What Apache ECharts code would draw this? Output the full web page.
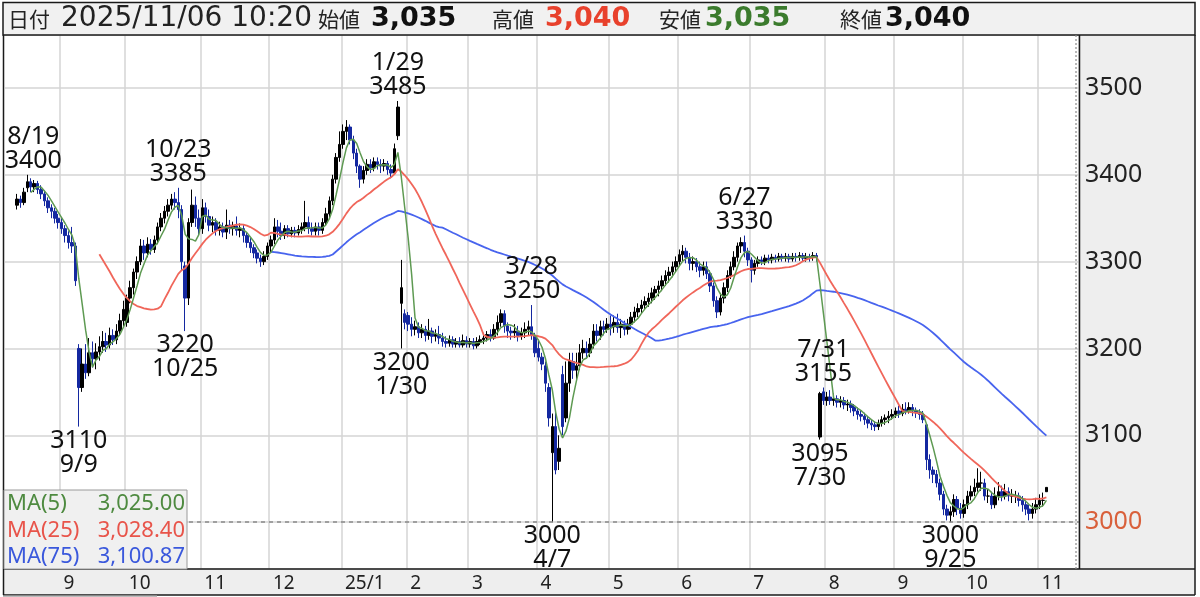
<!DOCTYPE html>
<html><head><meta charset="utf-8">
<script src="https://cdn.jsdelivr.net/npm/echarts@6/dist/echarts.min.js"></script>
<style>html,body{margin:0;padding:0;background:#fff;}#chart{width:1200px;height:597px;}</style>
</head><body><div id="chart"></div>
<script>
// ---- trading days and daily candles [open, close, low, high] ----
const days_2024_08 = [14,15,16,19,20,21,22,23,26,27,28,29,30];
const ohlc_2024_08 = [[3365,3372,3360,3378],[3372,3368,3362,3376],[3368,3380,3365,3385],[3385,3392,3380,3400],[3392,3386,3380,3396],[3386,3390,3380,3394],[3390,3383,3378,3393],[3383,3378,3372,3388],[3378,3370,3364,3382],[3370,3362,3356,3374],[3362,3358,3350,3366],[3358,3350,3344,3362],[3350,3345,3338,3355]];
const days_2024_09 = [2,3,4,5,6,9,10,11,12,13,17,18,19,20,24,25,26,27,30];
const ohlc_2024_09 = [[3345,3338,3332,3350],[3338,3330,3322,3342],[3330,3322,3315,3335],[3322,3318,3310,3340],[3318,3278,3272,3322],[3200,3155,3110,3205],[3155,3182,3150,3200],[3182,3172,3165,3205],[3172,3195,3168,3212],[3195,3188,3178,3208],[3188,3196,3176,3206],[3196,3202,3186,3214],[3202,3208,3195,3220],[3208,3204,3196,3218],[3204,3215,3200,3224],[3215,3210,3204,3222],[3210,3220,3205,3228],[3220,3232,3215,3240],[3232,3245,3225,3255]];
const days_2024_10 = [1,2,3,4,7,8,9,10,11,15,16,17,18,21,22,23,24,25,28,29,30,31];
const ohlc_2024_10 = [[3230,3258,3225,3262],[3258,3270,3252,3278],[3270,3288,3262,3292],[3288,3300,3280,3306],[3300,3318,3296,3326],[3318,3310,3302,3325],[3310,3320,3305,3328],[3320,3314,3308,3326],[3314,3325,3310,3330],[3325,3340,3320,3345],[3340,3350,3335,3356],[3350,3358,3344,3364],[3358,3365,3352,3372],[3365,3372,3360,3378],[3372,3368,3360,3380],[3368,3360,3350,3385],[3360,3300,3290,3365],[3295,3258,3220,3300],[3258,3345,3250,3350],[3345,3365,3340,3383],[3365,3350,3340,3375],[3350,3338,3330,3360]];
const days_2024_11 = [1,5,6,7,8,11,12,13,14,15,18,19,20,21,22,25,26,27,28,29];
const ohlc_2024_11 = [[3338,3362,3332,3372],[3362,3352,3345,3368],[3352,3342,3335,3360],[3342,3345,3334,3352],[3345,3336,3330,3350],[3336,3340,3330,3346],[3340,3334,3328,3345],[3334,3342,3326,3360],[3342,3338,3332,3348],[3338,3341,3330,3346],[3341,3336,3330,3352],[3336,3338,3328,3344],[3338,3330,3322,3342],[3330,3322,3316,3334],[3322,3316,3310,3328],[3316,3310,3304,3320],[3310,3304,3298,3314],[3304,3300,3294,3308],[3300,3306,3296,3312],[3306,3318,3302,3322]];
const days_2024_12 = [2,3,4,5,6,9,10,11,12,13,16,17,18,19,20,23,24,25,26,27,30];
const ohlc_2024_12 = [[3318,3325,3310,3330],[3325,3340,3320,3350],[3340,3335,3328,3348],[3335,3330,3325,3345],[3330,3338,3326,3342],[3338,3332,3328,3342],[3332,3336,3328,3340],[3336,3333,3328,3340],[3333,3337,3330,3342],[3337,3340,3332,3345],[3340,3345,3335,3370],[3345,3338,3332,3352],[3338,3335,3330,3345],[3335,3340,3330,3345],[3340,3336,3330,3345],[3336,3345,3332,3350],[3345,3355,3342,3362],[3355,3370,3350,3375],[3370,3395,3365,3400],[3395,3420,3390,3425],[3420,3435,3415,3450]];
const days_2025_01 = [6,7,8,9,10,14,15,16,17,20,21,22,23,24,27,28,29,30,31];
const ohlc_2025_01 = [[3435,3450,3430,3458],[3450,3455,3440,3463],[3455,3440,3435,3458],[3440,3425,3418,3445],[3425,3410,3402,3430],[3410,3395,3385,3412],[3395,3405,3390,3410],[3405,3412,3400,3418],[3412,3408,3402,3418],[3408,3415,3404,3420],[3415,3412,3406,3420],[3412,3410,3402,3418],[3410,3413,3404,3418],[3413,3406,3400,3416],[3406,3402,3396,3412],[3402,3430,3400,3436],[3445,3478,3440,3485],[3252,3270,3200,3302],[3240,3230,3222,3245]];
const days_2025_02 = [3,4,5,6,7,10,12,13,14,17,18,19,20,21,25,26,27,28];
const ohlc_2025_02 = [[3238,3228,3220,3242],[3228,3222,3214,3236],[3222,3225,3215,3232],[3225,3218,3212,3230],[3218,3222,3212,3228],[3222,3215,3208,3226],[3215,3220,3210,3234],[3220,3214,3206,3224],[3214,3216,3208,3222],[3216,3212,3205,3226],[3212,3208,3202,3218],[3208,3206,3201,3214],[3206,3210,3202,3215],[3210,3205,3201,3214],[3205,3208,3201,3212],[3208,3204,3201,3213],[3204,3209,3201,3216],[3209,3205,3201,3214]];
const days_2025_03 = [3,4,5,6,7,10,11,12,13,14,17,18,19,21,24,25,26,27,28,31];
const ohlc_2025_03 = [[3205,3208,3201,3212],[3208,3203,3199,3212],[3203,3208,3200,3213],[3208,3210,3204,3215],[3210,3212,3205,3218],[3212,3216,3208,3220],[3216,3212,3208,3222],[3212,3222,3210,3228],[3222,3230,3215,3238],[3230,3240,3225,3245],[3240,3226,3218,3244],[3226,3220,3212,3230],[3220,3218,3210,3225],[3218,3220,3212,3228],[3220,3215,3208,3226],[3215,3218,3210,3224],[3218,3222,3212,3230],[3222,3225,3215,3232],[3225,3215,3210,3250],[3215,3195,3190,3218]];
const days_2025_04 = [1,2,3,4,7,8,9,10,11,14,15,16,17,18,21,22,23,24,25,28,30];
const ohlc_2025_04 = [[3200,3190,3185,3210],[3190,3182,3175,3195],[3180,3160,3150,3185],[3155,3120,3110,3160],[3080,3110,3000,3125],[3110,3060,3055,3130],[3070,3085,3060,3100],[3170,3110,3100,3180],[3120,3160,3115,3185],[3160,3185,3150,3195],[3185,3175,3165,3195],[3175,3180,3165,3195],[3180,3195,3175,3205],[3195,3200,3188,3210],[3200,3195,3188,3208],[3195,3205,3190,3212],[3205,3220,3200,3228],[3220,3215,3208,3228],[3215,3225,3210,3232],[3225,3222,3215,3232],[3222,3228,3218,3235]];
const days_2025_05 = [1,2,7,8,9,12,13,14,15,16,19,20,21,22,23,26,27,28,29,30];
const ohlc_2025_05 = [[3228,3225,3215,3238],[3225,3230,3218,3238],[3230,3224,3218,3240],[3224,3228,3212,3234],[3228,3222,3215,3232],[3222,3228,3216,3234],[3228,3236,3222,3242],[3236,3242,3230,3248],[3242,3246,3236,3252],[3246,3250,3240,3256],[3250,3254,3245,3260],[3254,3258,3248,3264],[3258,3264,3252,3270],[3264,3268,3256,3272],[3268,3272,3260,3278],[3272,3278,3266,3284],[3278,3284,3272,3290],[3284,3288,3276,3294],[3288,3294,3282,3300],[3294,3300,3288,3306]];
const days_2025_06 = [2,3,4,5,6,9,10,11,12,13,16,17,18,19,20,23,24,25,26,27,30];
const ohlc_2025_06 = [[3300,3308,3295,3314],[3308,3312,3300,3319],[3312,3305,3298,3316],[3305,3298,3290,3310],[3298,3300,3290,3306],[3300,3294,3288,3304],[3294,3290,3282,3300],[3290,3294,3284,3300],[3294,3286,3280,3300],[3286,3272,3265,3290],[3272,3255,3248,3276],[3255,3242,3235,3260],[3242,3258,3238,3264],[3258,3270,3252,3276],[3270,3284,3265,3290],[3284,3294,3280,3300],[3294,3305,3290,3312],[3305,3318,3300,3322],[3318,3322,3310,3328],[3322,3312,3305,3330],[3312,3302,3295,3316]];
const days_2025_07 = [1,2,3,4,7,8,9,10,11,14,15,16,17,18,22,23,24,25,28,29,30,31];
const ohlc_2025_07 = [[3302,3290,3276,3305],[3290,3298,3285,3302],[3298,3302,3294,3306],[3302,3300,3296,3306],[3300,3304,3296,3308],[3304,3302,3298,3308],[3302,3305,3298,3309],[3305,3303,3299,3308],[3303,3306,3300,3310],[3306,3304,3300,3309],[3304,3306,3300,3310],[3306,3303,3299,3309],[3303,3306,3300,3310],[3306,3305,3300,3310],[3305,3307,3301,3311],[3307,3304,3300,3310],[3304,3306,3300,3310],[3306,3305,3300,3309],[3305,3307,3301,3311],[3307,3305,3300,3310],[3098,3148,3095,3150],[3150,3140,3135,3155]];
const days_2025_08 = [1,4,5,6,7,8,12,13,14,15,18,19,20,21,22,25,26,27,28,29];
const ohlc_2025_08 = [[3140,3144,3134,3150],[3144,3140,3135,3152],[3140,3142,3134,3148],[3142,3138,3132,3146],[3138,3140,3132,3145],[3140,3135,3130,3144],[3135,3136,3128,3141],[3136,3132,3126,3140],[3132,3128,3122,3136],[3128,3124,3118,3132],[3124,3122,3116,3128],[3122,3118,3112,3126],[3118,3114,3108,3122],[3114,3112,3106,3118],[3112,3110,3105,3116],[3110,3114,3106,3118],[3114,3118,3110,3122],[3118,3120,3112,3124],[3120,3122,3114,3128],[3122,3124,3118,3130]];
const days_2025_09 = [1,2,3,4,5,8,9,10,11,12,16,17,18,19,22,24,25,26,29,30];
const ohlc_2025_09 = [[3124,3128,3120,3132],[3128,3125,3120,3134],[3125,3130,3122,3136],[3130,3128,3124,3138],[3128,3132,3125,3138],[3132,3128,3122,3136],[3128,3126,3120,3132],[3126,3124,3118,3130],[3124,3118,3114,3128],[3112,3072,3060,3114],[3072,3060,3050,3078],[3060,3055,3045,3064],[3055,3045,3040,3060],[3045,3032,3025,3050],[3032,3015,3008,3036],[3015,3008,3002,3020],[3008,3012,3000,3018],[3012,3026,3006,3032],[3026,3016,3008,3030],[3016,3010,3004,3022]];
const days_2025_10 = [1,2,3,6,7,8,9,10,14,15,16,17,20,21,22,23,24,27,28,29,30,31];
const ohlc_2025_10 = [[3010,3020,3005,3026],[3020,3030,3015,3036],[3030,3035,3025,3042],[3035,3040,3030,3050],[3040,3045,3035,3062],[3045,3045,3036,3058],[3045,3030,3025,3050],[3030,3030,3022,3038],[3030,3020,3015,3035],[3020,3030,3016,3040],[3030,3035,3025,3046],[3035,3030,3024,3042],[3030,3035,3026,3044],[3035,3030,3024,3040],[3030,3030,3022,3038],[3030,3030,3022,3036],[3030,3025,3018,3034],[3025,3020,3012,3030],[3020,3015,3008,3025],[3015,3010,3002,3020],[3010,3015,3004,3022],[3015,3020,3010,3028]];
const days_2025_11 = [4,5,6];
const ohlc_2025_11 = [[3020,3025,3015,3032],[3025,3025,3018,3034],[3035,3040,3035,3040]];

// ---- annotated highs / lows ----
const markDates  = ['2024/08/19','2024/09/09','2024/10/23','2024/10/25','2025/01/29','2025/01/30','2025/03/28','2025/04/07','2025/06/27','2025/07/30','2025/07/31','2025/09/25'];
const markValues = [3400,3110,3385,3220,3485,3200,3250,3000,3330,3095,3155,3000];
const markSides  = ['top','bottom','top','bottom','top','bottom','top','bottom','top','bottom','top','bottom'];

// ---- moving averages / legend ----
const maPeriods = [5, 25, 75];
const maLabels = ['MA(5)', 'MA(25)', 'MA(75)'];
const maLegendValues = ['3,025.00', '3,028.40', '3,100.87'];
const maColors = ['#5e9a52', '#f0665a', '#4864ee'];
const maTextColors = ['#4e8a40', '#e8544a', '#3a58dc'];

// ---- header ----
const headerTime = '10:20';
const headerNames = ['日付', '始値', '高値', '安値', '終値'];
const refLine = 3000;

const months = [
  ['2024/08', days_2024_08, ohlc_2024_08], ['2024/09', days_2024_09, ohlc_2024_09],
  ['2024/10', days_2024_10, ohlc_2024_10], ['2024/11', days_2024_11, ohlc_2024_11],
  ['2024/12', days_2024_12, ohlc_2024_12], ['2025/01', days_2025_01, ohlc_2025_01],
  ['2025/02', days_2025_02, ohlc_2025_02], ['2025/03', days_2025_03, ohlc_2025_03],
  ['2025/04', days_2025_04, ohlc_2025_04], ['2025/05', days_2025_05, ohlc_2025_05],
  ['2025/06', days_2025_06, ohlc_2025_06], ['2025/07', days_2025_07, ohlc_2025_07],
  ['2025/08', days_2025_08, ohlc_2025_08], ['2025/09', days_2025_09, ohlc_2025_09],
  ['2025/10', days_2025_10, ohlc_2025_10], ['2025/11', days_2025_11, ohlc_2025_11]
];

const PAD_BEFORE = 3, PAD_AFTER = 9;
const FONT = "'Noto Sans', 'Noto Sans CJK JP', sans-serif";
const HFONT = "'DejaVu Sans', sans-serif";
const CJK = "'Noto Sans CJK JP', sans-serif";

const dates = [], rows = [];
months.forEach(([ym, days, ohlc]) => {
  days.forEach((d, i) => { dates.push(ym + '/' + String(d).padStart(2, '0')); rows.push(ohlc[i]); });
});
const categories = [];
for (let i = 0; i < PAD_BEFORE; i++) categories.push('pre' + i);
dates.forEach(d => categories.push(d));
for (let i = 0; i < PAD_AFTER; i++) categories.push('post' + i);

const EMPTY = ['-', '-', '-', '-'];
const candleData = [];
for (let i = 0; i < PAD_BEFORE; i++) candleData.push(EMPTY);
rows.forEach(r => candleData.push(r));
for (let i = 0; i < PAD_AFTER; i++) candleData.push(EMPTY);

function movingAverage(n) {
  const out = [];
  for (let i = 0; i < PAD_BEFORE; i++) out.push('-');
  for (let i = 0; i < rows.length; i++) {
    if (i < n - 1) { out.push('-'); continue; }
    let s = 0;
    for (let j = i - n + 1; j <= i; j++) s += rows[j][1];
    out.push(+(s / n).toFixed(2));
  }
  for (let i = 0; i < PAD_AFTER; i++) out.push('-');
  return out;
}

const isDate = v => /^\d{4}\/\d{2}\/\d{2}$/.test(v);
const monthStart = new Set();
for (let i = 1; i < categories.length; i++) {
  const c = categories[i], p = categories[i - 1];
  if (isDate(c) && isDate(p) && c.slice(0, 7) !== p.slice(0, 7)) monthStart.add(i);
}
const isMonthStart = (idx) => monthStart.has(idx);
const monthLabel = (v) => {
  if (!isDate(v)) return '';
  const [y, m] = v.split('/');
  return m === '01' ? y.slice(2) + '/1' : String(+m);
};

const markData = markDates.map((d, i) => {
  const [, m, dd] = d.split('/');
  const md = (+m) + '/' + (+dd);
  const text = markSides[i] === 'top' ? md + '\n' + markValues[i] : markValues[i] + '\n' + md;
  // keep labels near the left edge inside the plot
  const nearLeft = dates.indexOf(d) < 8;
  return { coord: [d, markValues[i]], value: markValues[i],
    label: { show: true, position: markSides[i], formatter: text, offset: nearLeft ? [6, 0] : [0, 0] } };
});

const last = rows[rows.length - 1];
const fmt = v => v.toLocaleString('en-US');
const lastDate = dates[dates.length - 1];

const chart = echarts.init(document.getElementById('chart'));

const series = [{
  type: 'candlestick', data: candleData, barWidth: 3,
  itemStyle: { color: '#000000', color0: '#1428a0', borderColor: '#000000', borderColor0: '#1428a0', borderWidth: 1 },
  markLine: { silent: true, symbol: ['none', 'none'], label: { show: false },
    lineStyle: { color: '#8a8a8a', type: [4, 4], width: 1.5 }, data: [{ yAxis: refLine }] },
  markPoint: { silent: true, symbol: 'circle', symbolSize: 2, itemStyle: { color: 'rgba(0,0,0,0)' },
    label: { show: true, color: '#111', fontSize: 25, lineHeight: 24, fontFamily: FONT, distance: 1 },
    data: markData }
}];
[2, 1, 0].forEach(k => {
  series.push({ type: 'line', name: maLabels[k], data: movingAverage(maPeriods[k]), showSymbol: false,
    lineStyle: { color: maColors[k], width: k === 0 ? 1.5 : 1.8 }, itemStyle: { color: maColors[k] } });
});

const g = [];
// backgrounds
g.push({ type: 'rect', z: -10, shape: { x: 1079, y: 35, width: 116, height: 534 }, style: { fill: '#eeeeee' } });
g.push({ type: 'rect', z: -10, shape: { x: 3, y: 569, width: 1192, height: 26 }, style: { fill: '#eeeeee' } });
// frame lines
g.push({ type: 'rect', z: 50, shape: { x: 3, y: 2.5, width: 1192, height: 32.5 }, style: { fill: '#f1f1f1', stroke: '#1a1a1a', lineWidth: 1.5 } });
g.push({ type: 'line', z: 50, shape: { x1: 3.5, y1: 35, x2: 3.5, y2: 595 }, style: { stroke: '#1a1a1a', lineWidth: 1.5 } });
g.push({ type: 'line', z: 50, shape: { x1: 1195, y1: 35, x2: 1195, y2: 595 }, style: { stroke: '#1a1a1a', lineWidth: 1.5 } });
g.push({ type: 'line', z: 50, shape: { x1: 3, y1: 569, x2: 1195, y2: 569 }, style: { stroke: '#1a1a1a', lineWidth: 1.5 } });
g.push({ type: 'line', z: 50, shape: { x1: 3, y1: 595, x2: 1195, y2: 595 }, style: { stroke: '#1a1a1a', lineWidth: 1.5 } });
g.push({ type: 'line', z: 50, shape: { x1: 1079.5, y1: 35, x2: 1079.5, y2: 569 }, style: { stroke: '#1a1a1a', lineWidth: 1.5 } });
g.push({ type: 'line', z: 50, shape: { x1: 1076, y1: 35, x2: 1076, y2: 569 }, style: { stroke: '#8a8a8a', lineWidth: 1.2, lineDash: [2, 2] } });
g.push({ type: 'rect', z: 50, shape: { x: 3, y: 595.5, width: 154, height: 2 }, style: { fill: '#bdbdbd' } });
// header
const hx = [8, 318, 492, 659, 840];
const hvx = [371, 545, 705, 885];
const hvals = [last[0], last[3], last[2], last[1]];
const hcol = ['#111', '#e8412c', '#3b7b2d', '#111'];
headerNames.forEach((t, i) => g.push({ type: 'text', z: 60, x: hx[i], y: 19,
  style: { text: t, fill: '#222', fontSize: 21, fontFamily: CJK, verticalAlign: 'middle' } }));
g.push({ type: 'text', z: 60, x: 61, y: 19, style: { text: lastDate + ' ' + headerTime, fill: '#222', fontSize: 28, fontFamily: HFONT, verticalAlign: 'middle' } });
hvals.forEach((v, i) => g.push({ type: 'text', z: 60, x: hvx[i], y: 19,
  style: { text: fmt(v), fill: hcol[i], fontSize: 27, fontWeight: 'bold', fontFamily: HFONT, verticalAlign: 'middle' } }));
// MA legend box
g.push({ type: 'rect', z: 70, shape: { x: 4, y: 490, width: 183, height: 79 }, style: { fill: '#f0f0f0', stroke: '#9a9a9a', lineWidth: 1 } });
maLabels.forEach((t, i) => {
  g.push({ type: 'text', z: 71, x: 7, y: 504 + i * 26.5, style: { text: t, fill: maTextColors[i], fontSize: 22, fontFamily: FONT, verticalAlign: 'middle' } });
  g.push({ type: 'text', z: 71, x: 185, y: 504 + i * 26.5, style: { text: maLegendValues[i], fill: maTextColors[i], fontSize: 22, fontFamily: FONT, align: 'right', verticalAlign: 'middle' } });
});

chart.setOption({
  animation: false,
  backgroundColor: '#ffffff',
  grid: { left: 5, right: 121, top: 35, bottom: 28 },
  xAxis: {
    type: 'category', data: categories, boundaryGap: true,
    axisLine: { show: false }, axisTick: { show: false },
    axisLabel: { interval: isMonthStart, formatter: monthLabel, align: 'left', color: '#222', fontSize: 19, fontFamily: FONT, margin: 5, padding: [0, 0, 0, 2] },
    splitLine: { show: true, interval: isMonthStart, lineStyle: { color: '#d4d4d4', width: 1.5 } }
  },
  yAxis: {
    type: 'value', position: 'right', min: 2946, max: 3561, splitNumber: 6,
    axisLine: { show: false }, axisTick: { show: false },
    axisLabel: { showMinLabel: false, showMaxLabel: false, margin: 6, fontSize: 25, fontFamily: FONT,
      formatter: (v) => String(v),
      color: (v) => Number(v) === refLine ? '#d9603b' : '#222' },
    splitLine: { lineStyle: { color: '#d4d4d4', width: 1.5 } }
  },
  series: series,
  graphic: { elements: g }
});
</script></body></html>
